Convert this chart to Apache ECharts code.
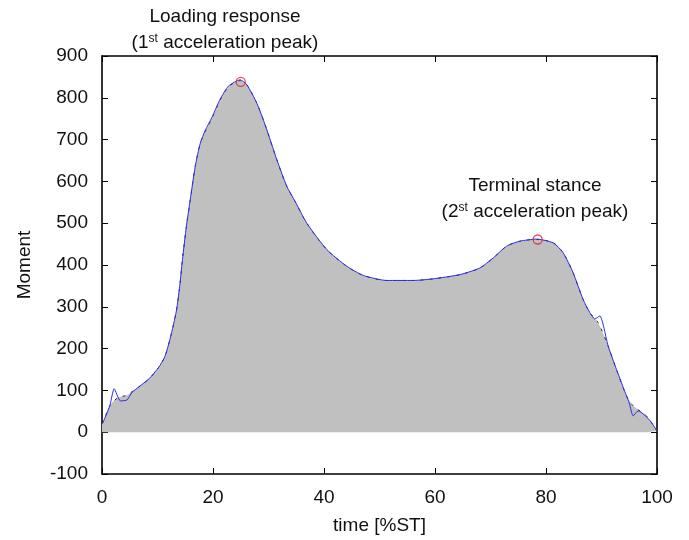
<!DOCTYPE html>
<html>
<head>
<meta charset="utf-8">
<script src="https://cdn.jsdelivr.net/npm/echarts@6/dist/echarts.min.js"></script>
<style>
  html, body { margin: 0; padding: 0; background: #fff; }
  #main { width: 689px; height: 540px; }
</style>
</head>
<body>
<div id="main"></div>
<script>
// mean curve (black line, grey fill)
var timeMean = [0, 0.3, 1.4, 2.9, 4.4, 5.4, 6.6, 8.5, 10.2, 11.3, 12.3, 13.4, 14.0, 14.5, 15.2, 15.9, 16.8, 17.7,
  18.6, 19.8, 21.3, 22.8, 24.9, 26.1, 27.9, 29.4, 31.5, 33.3, 34.8, 36.9, 40.5, 44.1, 47.1, 51.3, 56.1,
  59.7, 64.5, 68.1, 70.5, 72.9, 75.3, 78.3, 81.3, 83.1, 84.9, 86.7, 87.9, 89.4, 91.2, 92.7, 94.5, 95.7,
  98.1, 100];
var momentMean = [20, 27, 63, 83, 88, 97, 108, 128, 155, 180, 225, 290, 349, 413, 492, 556, 636, 691,
  719, 751, 795, 826, 841, 831, 787, 735, 652, 588, 552, 500, 437, 397, 375, 363, 363,
  367, 377, 393, 417, 445, 457, 461, 453, 429, 381, 317, 286, 262, 206, 150, 87, 63,
  39, 3];

// single trial (blue line)
var timeBlue = [0, 0.3, 1.4, 2.2, 3.3, 4.5, 5.4, 6.6, 8.5, 10.2, 11.3, 12.3, 13.4, 14.0, 14.5, 15.2, 15.9, 16.8, 17.7,
  18.6, 19.8, 21.3, 22.8, 24.9, 26.1, 27.9, 29.4, 31.5, 33.3, 34.8, 36.9, 40.5, 44.1, 47.1, 51.3, 56.1,
  59.7, 64.5, 68.1, 70.5, 72.9, 75.3, 78.3, 81.3, 83.1, 84.9, 86.7, 87.9, 88.8, 89.7, 91.2, 92.7, 94.5, 95.0,
  95.7, 96.6, 98.6, 100];
var momentBlue = [20, 27, 63, 104, 75, 77, 95, 108, 128, 155, 180, 225, 290, 349, 413, 492, 556, 636, 691,
  722, 753, 797, 828, 843, 831, 787, 735, 652, 588, 552, 500, 437, 397, 375, 363, 363,
  367, 377, 393, 417, 445, 457, 462, 453, 429, 381, 317, 286, 271, 278, 206, 150, 87, 70,
  39, 51, 30, 3];

// marked peaks
var peakTime = [25, 78.5];
var peakMoment = [838, 461];

var yTicks = [-100, 900, 100];
var xTicks = [0, 100, 20];

function pairs(xs, ys) {
  var out = [];
  for (var i = 0; i < xs.length; i++) out.push([xs[i], ys[i]]);
  return out;
}

var myChart = echarts.init(document.getElementById('main'));

var FONT = 'Liberation Sans, Arial, sans-serif';
var labelFont = { fontFamily: FONT, fontSize: 19, color: '#111' };
var frameLine = { onZero: false, show: true, lineStyle: { color: '#000', width: 1.6 } };
var frameTick = { show: true, inside: true, length: 6, lineStyle: { color: '#000', width: 1 } };

var option = {
  animation: false,
  backgroundColor: '#fff',
  grid: { left: 102, right: 32, top: 56, bottom: 65 },
  xAxis: [
    {
      type: 'value', min: xTicks[0], max: xTicks[1], interval: xTicks[2],
      name: 'time [%ST]', nameLocation: 'middle', nameGap: 42,
      nameTextStyle: labelFont,
      axisLine: frameLine, axisTick: frameTick,
      axisLabel: Object.assign({ margin: 14 }, labelFont),
      splitLine: { show: false }
    },
    {
      type: 'value', position: 'top', min: xTicks[0], max: xTicks[1], interval: xTicks[2],
      axisLine: frameLine, axisTick: frameTick,
      axisLabel: { show: false },
      splitLine: { show: false }
    }
  ],
  yAxis: [
    {
      type: 'value', min: yTicks[0], max: yTicks[1], interval: yTicks[2],
      name: 'Moment', nameLocation: 'middle', nameGap: 68, nameRotate: 90,
      nameTextStyle: labelFont,
      axisLine: frameLine, axisTick: frameTick,
      axisLabel: Object.assign({ margin: 14 }, labelFont),
      splitLine: { show: false }
    },
    {
      type: 'value', position: 'right', min: yTicks[0], max: yTicks[1], interval: yTicks[2],
      axisLine: frameLine, axisTick: frameTick,
      axisLabel: { show: false },
      splitLine: { show: false }
    }
  ],
  series: [
    {
      name: 'fill', type: 'line', data: pairs(timeMean, momentMean), smooth: 0.3,
      symbol: 'none', lineStyle: { width: 0 },
      areaStyle: { color: '#c0c0c0', opacity: 1 }, z: 1
    },
    {
      name: 'mean', type: 'line', data: pairs(timeMean, momentMean), smooth: 0.3,
      symbol: 'none', lineStyle: { width: 1, color: '#333', type: [3, 6] }, z: 2
    },
    {
      name: 'trial', type: 'line', data: pairs(timeBlue, momentBlue), smooth: 0.2,
      symbol: 'none', lineStyle: { width: 1, color: '#2a2aee' }, z: 3
    },
    {
      name: 'peaks', type: 'scatter', data: pairs(peakTime, peakMoment),
      symbol: 'circle', symbolSize: 9,
      itemStyle: { color: 'rgba(0,0,0,0)', borderColor: '#e02020', borderWidth: 1.3 }, z: 4
    }
  ],
  graphic: [
    {
      type: 'text', x: 225, y: 17,
      style: { text: 'Loading response', align: 'center', verticalAlign: 'middle',
        font: '19px "Liberation Sans", Arial, sans-serif', fill: '#111' }
    },
    {
      type: 'text', x: 225, y: 43,
      style: {
        text: '(1{sup|st} acceleration peak)', align: 'center', verticalAlign: 'middle',
        font: '19px "Liberation Sans", Arial, sans-serif', fill: '#111',
        rich: { sup: { fontSize: 12, verticalAlign: 'top', padding: [0, 0, 8, 0], fontFamily: FONT, fill: '#111' } }
      }
    },
    {
      type: 'text', x: 535, y: 186,
      style: { text: 'Terminal stance', align: 'center', verticalAlign: 'middle',
        font: '19px "Liberation Sans", Arial, sans-serif', fill: '#111' }
    },
    {
      type: 'text', x: 535, y: 212,
      style: {
        text: '(2{sup|st} acceleration peak)', align: 'center', verticalAlign: 'middle',
        font: '19px "Liberation Sans", Arial, sans-serif', fill: '#111',
        rich: { sup: { fontSize: 12, verticalAlign: 'top', padding: [0, 0, 8, 0], fontFamily: FONT, fill: '#111' } }
      }
    }
  ]
};

myChart.setOption(option);
</script>
</body>
</html>
